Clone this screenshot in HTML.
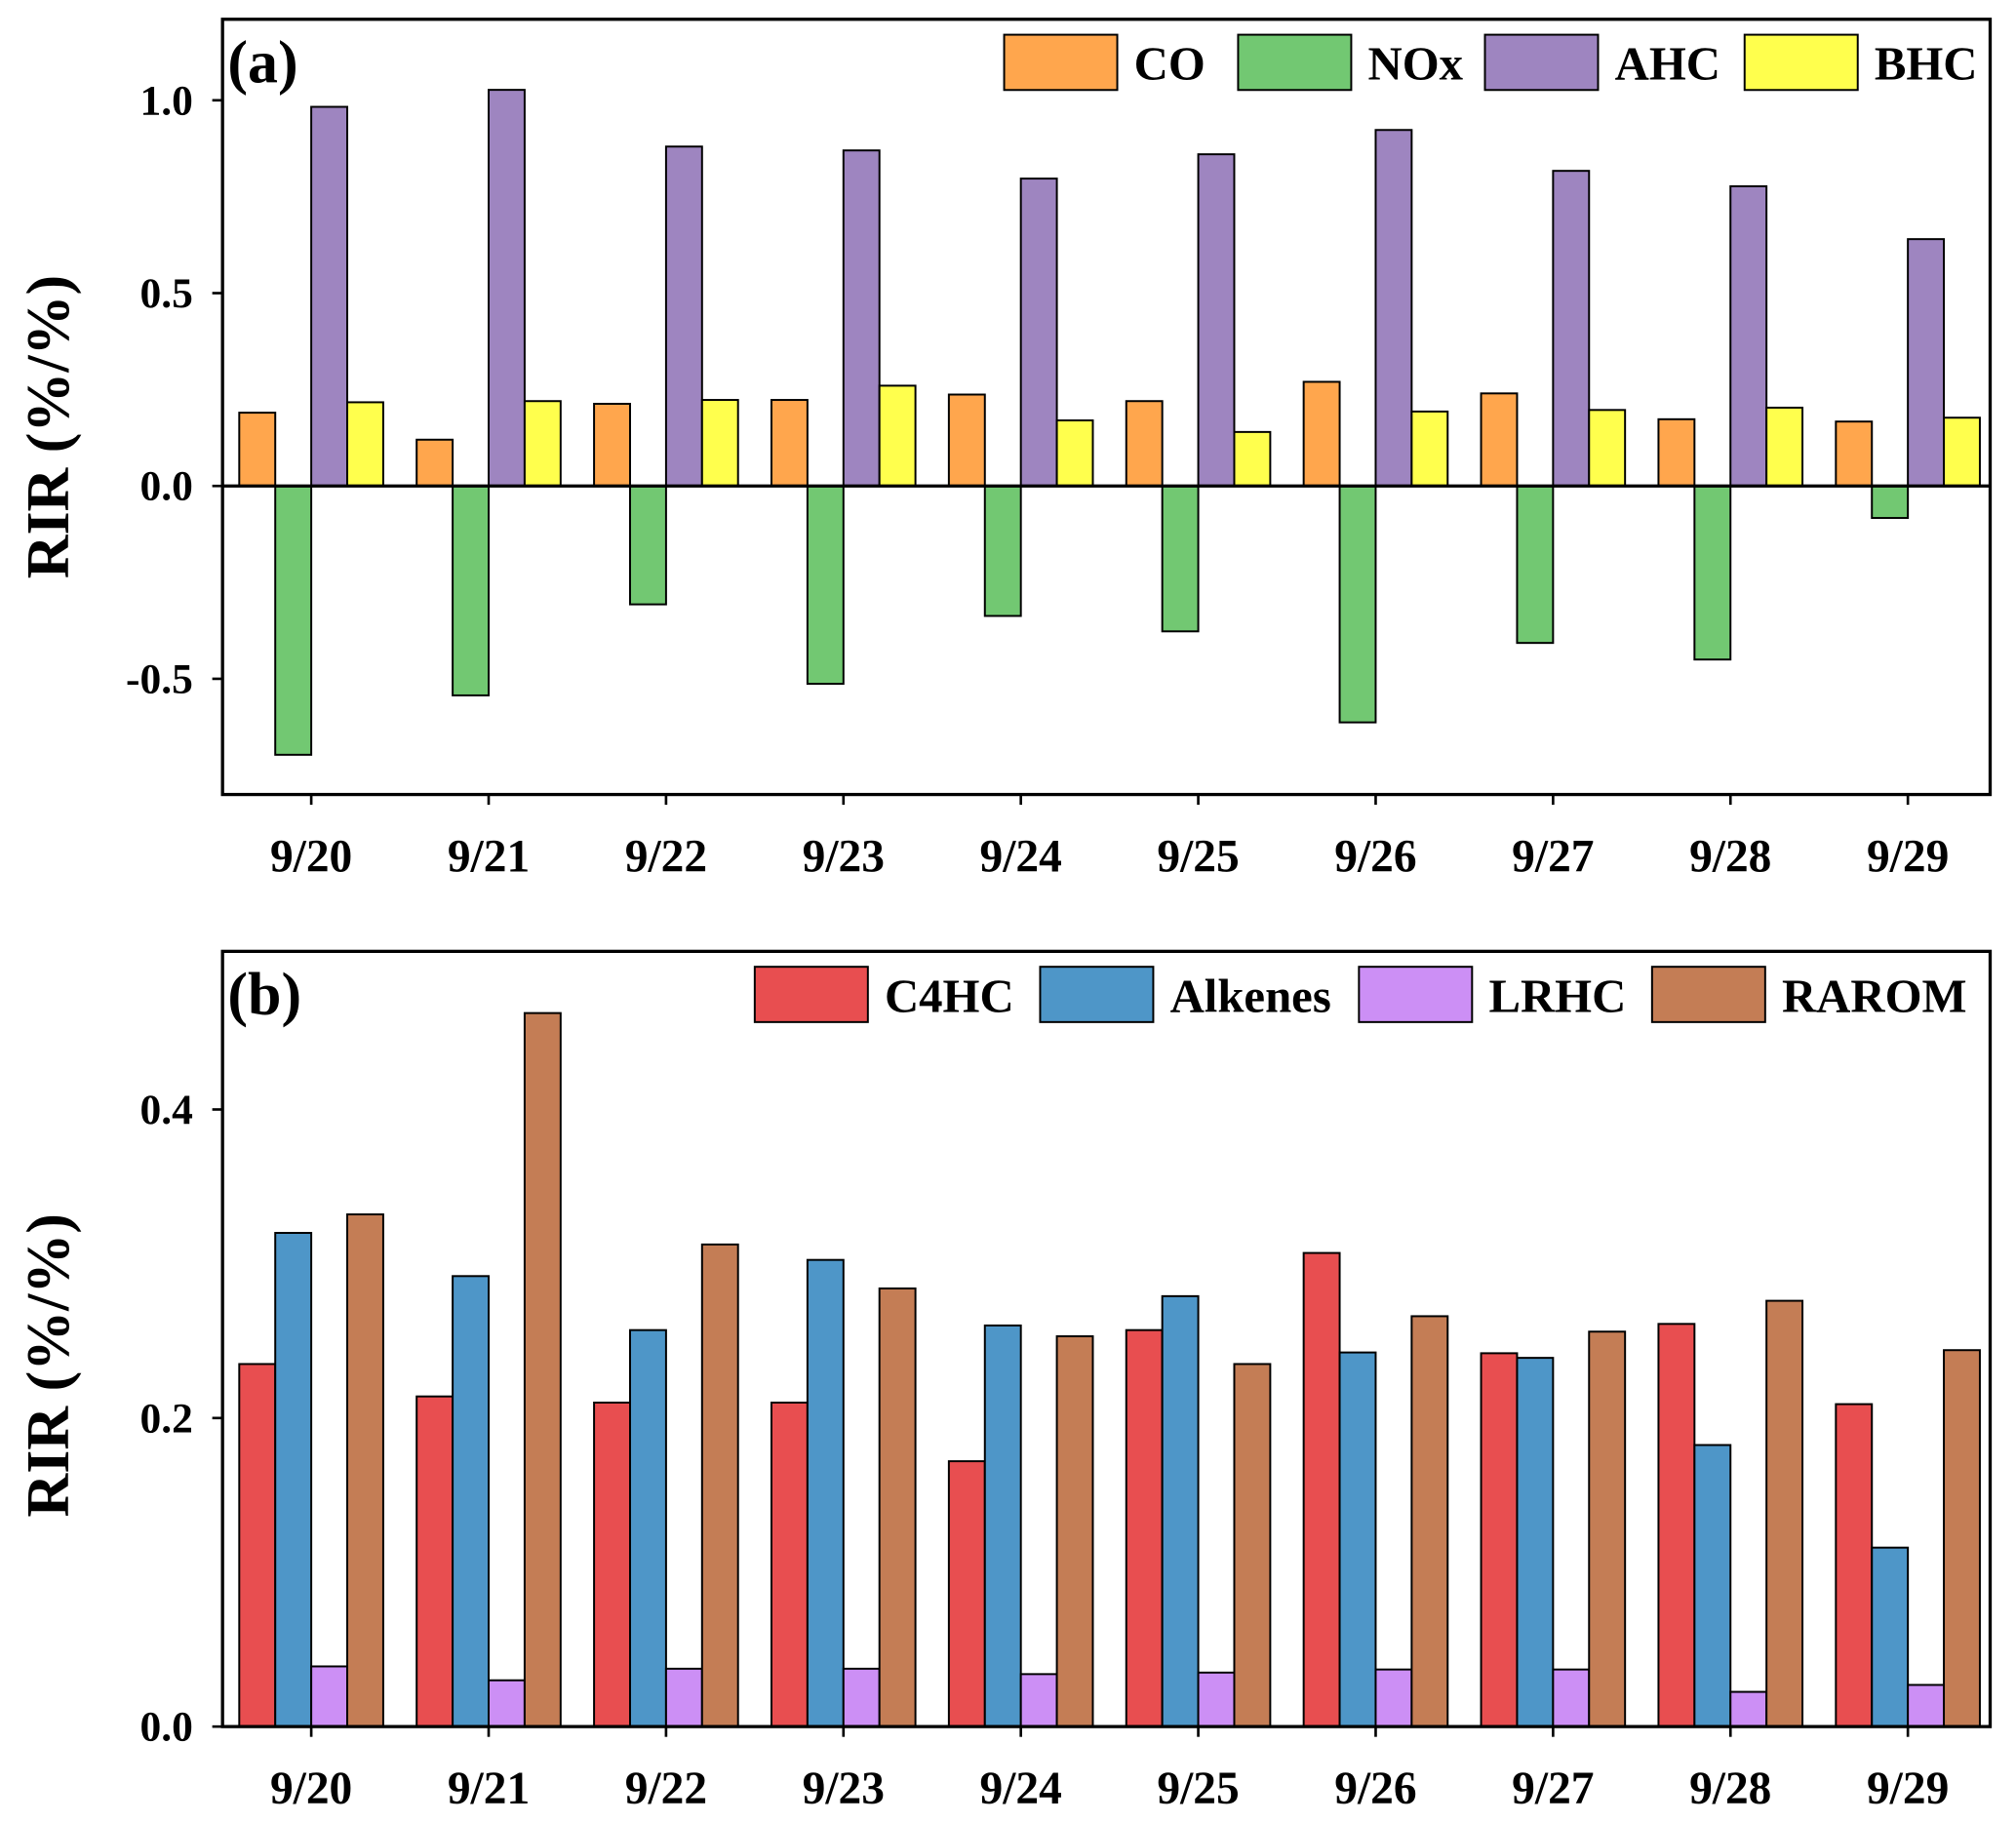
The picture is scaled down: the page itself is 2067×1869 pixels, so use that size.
<!DOCTYPE html>
<html><head><meta charset="utf-8"><style>
html,body{margin:0;padding:0;background:#fff}
svg{display:block}
text{font-family:"Liberation Serif",serif;font-weight:bold;fill:#000}
</style></head><body>
<svg id="chart" width="2067" height="1869" viewBox="0 0 1568 1418" xmlns="http://www.w3.org/2000/svg"></svg>
<script>
const categories=["9/20","9/21","9/22","9/23","9/24","9/25","9/26","9/27","9/28","9/29"];
const coVals=[0.19,0.12,0.213,0.223,0.237,0.22,0.27,0.24,0.173,0.167];
const noxVals=[-0.697,-0.543,-0.307,-0.513,-0.337,-0.377,-0.613,-0.407,-0.45,-0.083];
const ahcVals=[0.983,1.027,0.88,0.87,0.797,0.86,0.923,0.817,0.777,0.64];
const bhcVals=[0.217,0.22,0.223,0.26,0.17,0.14,0.193,0.197,0.203,0.177];
const c4hcVals=[0.235,0.214,0.21,0.21,0.172,0.257,0.307,0.242,0.261,0.209];
const alkVals=[0.32,0.292,0.257,0.3025,0.26,0.279,0.2425,0.239,0.1825,0.116];
const lrhcVals=[0.039,0.03,0.0375,0.0375,0.034,0.035,0.037,0.037,0.0225,0.027];
const raromVals=[0.332,0.4625,0.3125,0.284,0.253,0.235,0.266,0.256,0.276,0.244];
const ticksA=[-0.5,0.0,0.5,1.0];
const ticksB=[0.0,0.2,0.4];
const NS="http://www.w3.org/2000/svg";
const svg=document.getElementById('chart');
function mk(tag,attrs,parent){const e=document.createElementNS(NS,tag);for(const k in attrs)e.setAttribute(k,attrs[k]);(parent||svg).appendChild(e);return e;}
function panel(cfg){
  const g=mk('g',{});
  
  
  const x0=173,x1=1548;
  const y=v=>cfg.zeroY-(v)*cfg.pxPer;
  const cx=i=>242+i*138;
  const bw=28;
  cfg.series.forEach((s,si)=>{
    s.vals.forEach((v,i)=>{
      const left=cx(i)-56+si*bw;
      const top=Math.min(y(v),y(0)),h=Math.abs(y(v)-y(0));
      const r=mk('rect',{x:left,y:top,width:bw,height:h,fill:s.color,stroke:'#000','stroke-width':1.5},g);
      
      
    });
  });
  if(cfg.zeroLine){const l=mk('line',{x1:x0,x2:x1,y1:y(0),y2:y(0),stroke:'#000','stroke-width':2.5},g);
    }
  const box=mk('rect',{x:x0,y:cfg.top,width:x1-x0,height:cfg.bottom-cfg.top,fill:'none',stroke:'#000','stroke-width':2.5},g);
  
  cfg.ticks.forEach(t=>{
    mk('line',{x1:x0-8,x2:x0,y1:y(t),y2:y(t),stroke:'#000','stroke-width':2},g);
    const tx=mk('text',{x:150,y:y(t)+11,'text-anchor':'end','font-size':33},g);
    tx.textContent=t.toFixed(1);
    
  });
  categories.forEach((c,i)=>{
    mk('line',{x1:cx(i),x2:cx(i),y1:cfg.bottom,y2:cfg.bottom+8,stroke:'#000','stroke-width':2},g);
    const tx=mk('text',{x:cx(i),y:cfg.bottom+60,'text-anchor':'middle','font-size':36},g);
    tx.textContent=c;
    
  });
  const yt=mk('text',{x:0,y:0,'text-anchor':'middle','font-size':47,transform:`translate(53,${cfg.titleY}) rotate(-90)`},g);
  yt.textContent='RIR (%/%)';
  
  const pl=mk('text',{x:177,y:cfg.top+49,'font-size':47},g);
  pl.textContent=cfg.label;
  
  cfg.series.forEach((s,si)=>{
    const lg=mk('g',{},g);
    
    
    mk('rect',{x:s.lx,y:cfg.top+12,width:88,height:43,fill:s.color,stroke:'#000','stroke-width':1.5},lg);
    const t=mk('text',{x:s.lx+101,y:cfg.top+47,'font-size':37},lg);
    t.textContent=s.label;
  });
}
panel({name:'panel-a',label:'(a)',top:15,bottom:618,zeroY:378,pxPer:300,ticks:ticksA,zeroLine:true,titleY:332,
  series:[{key:'co',label:'CO',vals:coVals,color:'#FFA64D',lx:781},
          {key:'nox',label:'NOx',vals:noxVals,color:'#72C872',lx:963},
          {key:'ahc',label:'AHC',vals:ahcVals,color:'#9E85C0',lx:1155},
          {key:'bhc',label:'BHC',vals:bhcVals,color:'#FFFF4D',lx:1357}]});
panel({name:'panel-b',label:'(b)',top:740,bottom:1343,zeroY:1343,pxPer:1200,ticks:ticksB,zeroLine:false,titleY:1062,
  series:[{key:'c4hc',label:'C4HC',vals:c4hcVals,color:'#E84E50',lx:587},
          {key:'alkenes',label:'Alkenes',vals:alkVals,color:'#4E96C8',lx:809},
          {key:'lrhc',label:'LRHC',vals:lrhcVals,color:'#CC8FF5',lx:1057},
          {key:'rarom',label:'RAROM',vals:raromVals,color:'#C47D55',lx:1285}]});
</script>
</body></html>
